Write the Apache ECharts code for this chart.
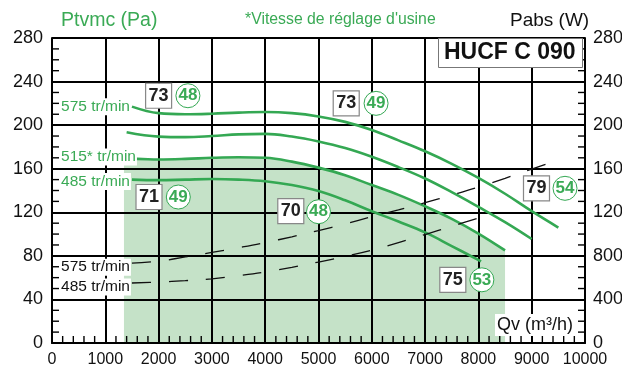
<!DOCTYPE html>
<html>
<head>
<meta charset="utf-8">
<script src="https://cdn.jsdelivr.net/npm/echarts@6/dist/echarts.min.js"></script>
<style>
  html, body { margin: 0; padding: 0; background: #fff; }
  #chart { width: 622px; height: 367px; }
</style>
</head>
<body>
<div id="chart"></div>
<script>
// Courbes débit / pression du caisson HUCF C 090
const qv575 = [1500, 2000, 2500, 3000, 3500, 4000, 4500, 5000, 5500, 6000, 6500, 7000, 7500, 8000, 8500, 9000, 9500];
const pt575 = [217, 211, 210, 210.5, 211.5, 212, 211, 208, 203, 195.5, 186, 176, 164.5, 151.5, 137, 121, 106];

const qvMid = [1400, 2000, 2500, 3000, 3500, 4000, 4500, 5000, 5500, 6000, 6500, 7000, 7500, 8000, 8500, 9000];
const ptMid = [193.5, 189.5, 189, 190, 191.5, 192, 189.5, 185, 179, 171, 161.5, 151, 138.5, 125, 111, 95.5];

const qv515 = [1350, 1600, 2000, 2500, 3000, 3500, 4000, 4500, 5000, 5500, 6000, 6500, 7000, 7500, 8000, 8500];
const pt515 = [168, 169, 168.5, 169, 170, 170.5, 170, 166.5, 161, 154, 145, 136, 125.5, 114, 100.5, 85];

const qv485 = [1500, 2000, 2500, 3000, 3500, 4000, 4500, 5000, 5500, 6000, 6500, 7000, 7500, 8050];
const pt485 = [150, 149.5, 150, 150.5, 150, 148.5, 145, 139.5, 131, 121, 111.5, 101.5, 89, 75];

// Puissance absorbée (W)
const qvPabs575 = [1500, 2000, 2500, 3000, 3500, 4000, 4500, 5000, 5500, 6000, 6500, 7000, 7500, 8000, 8500, 9000, 9500];
const pabs575 = [733, 751, 790, 831, 875, 922, 975, 1032, 1093, 1159, 1222, 1288, 1358, 1431, 1512, 1597, 1678];

const qvPabs485 = [1500, 2000, 2500, 3000, 3500, 4000, 4500, 5000, 5500, 6000, 6500, 7000, 7500, 8030];
const pabs485 = [551, 559, 572, 589, 618, 652, 695, 743, 795, 852, 922, 996, 1072, 1150];

// Niveaux sonores : puissance (encadré) et pression (cercle)
const boxQv = [2000, 5520, 1820, 4480, 9090, 7520];
const boxPt = [227, 220, 134, 121, 142, 58];
const boxDb = ['73', '73', '71', '70', '79', '75'];
const circleQv = [2550, 6080, 2370, 5000, 9625, 8065];
const circlePt = [227, 220, 134, 120.5, 142, 58];
const circleDb = ['48', '49', '49', '48', '54', '53'];

const speedLabels = ['575 tr/min', '515* tr/min', '485 tr/min'];
const powerLabels = ['575 tr/min', '485 tr/min'];

const xTicks = { min: 0, max: 10000, interval: 1000 };
const yTicks = { min: 0, max: 280, interval: 40 };
const y2Ticks = { min: 0, max: 2800, interval: 400 };

// minor tick positions (between the major grid lines)
const xMinorTicks = [200, 400, 600, 800, 1200, 1400, 1600, 1800, 2200, 2400, 2600, 2800,
  3200, 3400, 3600, 3800, 4200, 4400, 4600, 4800, 5200, 5400, 5600, 5800,
  6200, 6400, 6600, 6800, 7200, 7400, 7600, 7800, 8200, 8400, 8600, 8800,
  9200, 9400, 9600, 9800];
const yMinorTicks = [10, 20, 30, 50, 60, 70, 90, 100, 110, 130, 140, 150, 170, 180, 190,
  210, 220, 230, 250, 260, 270];

const GREEN = '#34a853';
const GREEN_TEXT = '#3aaa55';
const AREA = '#c5e2c8';
const FONT = "'Liberation Sans', Arial, sans-serif";
const TICK_LEN = 7;
const TICK_W = 1.4;

function zip(xs, ys) { return xs.map((x, i) => [x, ys[i]]); }
const plain = v => String(v);

// first point carries the speed label
function withStartLabel(pairs, text, color, offset) {
  return pairs.map((p, i) => i === 0 ? {
    value: p,
    label: {
      show: true, position: 'left', distance: 1, offset: offset,
      formatter: text, color: color, fontSize: 15.5, fontFamily: FONT,
      backgroundColor: '#fff', padding: [1, 1, 0, 1]
    }
  } : { value: p });
}

function greenCurve(pairs, labelText, offset) {
  return {
    type: 'line', smooth: 0.4, z: 3, silent: true,
    showSymbol: true, symbolSize: 0,
    data: labelText ? withStartLabel(pairs, labelText, GREEN_TEXT, offset) : pairs,
    lineStyle: { color: GREEN, width: 2.6 },
    itemStyle: { color: GREEN }
  };
}

function powerCurve(pairs, labelText, offset) {
  return {
    type: 'line', yAxisIndex: 1, smooth: 0.4, z: 3, silent: true,
    showSymbol: true, symbolSize: 0,
    data: withStartLabel(pairs, labelText, '#111', offset),
    lineStyle: { color: '#111', width: 1.3, type: [19, 18] },
    itemStyle: { color: '#111' }
  };
}

// short inner ticks: thin rectangles anchored on the axis line
function tickSeries(data, size, offset) {
  return {
    type: 'scatter', z: 4, silent: true, clip: false,
    symbol: 'rect', symbolSize: size, symbolOffset: offset,
    itemStyle: { color: '#000', opacity: 1 },
    data: data
  };
}

const chart = echarts.init(document.getElementById('chart'), null, { renderer: 'canvas' });

const axisCommon = {
  z: 2,
  axisLine: { show: true, lineStyle: { color: '#000', width: 2 } },
  axisTick: { show: false },
  splitLine: { show: true, lineStyle: { color: '#000', width: 2 } }
};

chart.setOption({
  animation: false,
  backgroundColor: '#fff',
  grid: { left: 52, right: 37, top: 38, bottom: 24, containLabel: false, outerBoundsMode: 'none' },
  title: [
    { text: 'Ptvmc (Pa)', left: 61, top: 11, padding: 0,
      textStyle: { color: GREEN_TEXT, fontSize: 19.5, fontWeight: 'normal', fontFamily: FONT } },
    { text: "*Vitesse de réglage d'usine", left: 245, top: 12, padding: 0,
      textStyle: { color: GREEN_TEXT, fontSize: 15.8, fontWeight: 'normal', fontFamily: FONT } },
    { text: 'Pabs (W)', left: 510, top: 11, padding: 0,
      textStyle: { color: '#111', fontSize: 19, fontWeight: 'normal', fontFamily: FONT } },
    { text: 'HUCF C 090', left: 438, top: 38, padding: [3, 7, 3, 6],
      backgroundColor: '#fff', borderColor: '#777', borderWidth: 1,
      textStyle: { color: '#111', fontSize: 23, fontWeight: 'bold', fontFamily: FONT, lineHeight: 24 } },
    { text: 'Qv (m³/h)', left: 495, top: 314, padding: [1, 2, 1, 2], backgroundColor: '#fff',
      textStyle: { color: '#111', fontSize: 18, fontWeight: 'normal', fontFamily: FONT, lineHeight: 20 } }
  ],
  xAxis: Object.assign({}, axisCommon, {
    type: 'value', min: xTicks.min, max: xTicks.max, interval: xTicks.interval,
    axisLabel: { color: '#111', fontSize: 16, fontFamily: FONT, margin: 9, formatter: plain }
  }),
  yAxis: [
    Object.assign({}, axisCommon, {
      type: 'value', min: yTicks.min, max: yTicks.max, interval: yTicks.interval,
      axisLabel: { color: '#111', fontSize: 18, fontFamily: FONT, margin: 9, formatter: plain }
    }),
    Object.assign({}, axisCommon, {
      type: 'value', position: 'right', min: y2Ticks.min, max: y2Ticks.max, interval: y2Ticks.interval,
      splitLine: { show: false },
      axisLabel: { color: '#111', fontSize: 18, fontFamily: FONT, margin: 8, formatter: plain }
    })
  ],
  series: [
    // zone de fonctionnement sous la vitesse usine
    {
      type: 'line', smooth: 0.4, z: 1, silent: true, showSymbol: false,
      data: zip(qv515, pt515),
      lineStyle: { width: 0, opacity: 0 },
      areaStyle: { color: AREA, opacity: 1 }
    },
    tickSeries(xMinorTicks.map(v => [v, yTicks.min]), [TICK_W, TICK_LEN], [0, -TICK_LEN / 2]),
    tickSeries(yMinorTicks.map(v => [xTicks.min, v]), [TICK_LEN, TICK_W], [TICK_LEN / 2, 0]),
    tickSeries(yMinorTicks.map(v => [xTicks.max, v]), [TICK_LEN, TICK_W], [-TICK_LEN / 2, 0]),
    greenCurve(zip(qv575, pt575), speedLabels[0], [0, 0]),
    greenCurve(zip(qvMid, ptMid), null),
    greenCurve(zip(qv515, pt515), speedLabels[1], [14, -3]),
    greenCurve(zip(qv485, pt485), speedLabels[2], [0, 2]),
    powerCurve(zip(qvPabs575, pabs575), powerLabels[0], [0, 4]),
    powerCurve(zip(qvPabs485, pabs485), powerLabels[1], [0, 4]),
    {
      type: 'scatter', z: 5, silent: true,
      symbol: 'rect', symbolSize: [26, 25],
      itemStyle: { color: '#fff', borderColor: '#888', borderWidth: 1.2, opacity: 1 },
      label: {
        show: true, position: 'inside', color: '#222', fontSize: 18, fontWeight: 'bold', fontFamily: FONT,
        formatter: p => boxDb[p.dataIndex]
      },
      data: zip(boxQv, boxPt)
    },
    {
      type: 'scatter', z: 5, silent: true,
      symbol: 'circle', symbolSize: 24,
      itemStyle: { color: '#fff', borderColor: GREEN, borderWidth: 1, opacity: 1 },
      label: {
        show: true, position: 'inside', color: GREEN_TEXT, fontSize: 17, fontWeight: 'bold', fontFamily: FONT,
        formatter: p => circleDb[p.dataIndex]
      },
      data: zip(circleQv, circlePt)
    }
  ]
});
</script>
</body>
</html>
